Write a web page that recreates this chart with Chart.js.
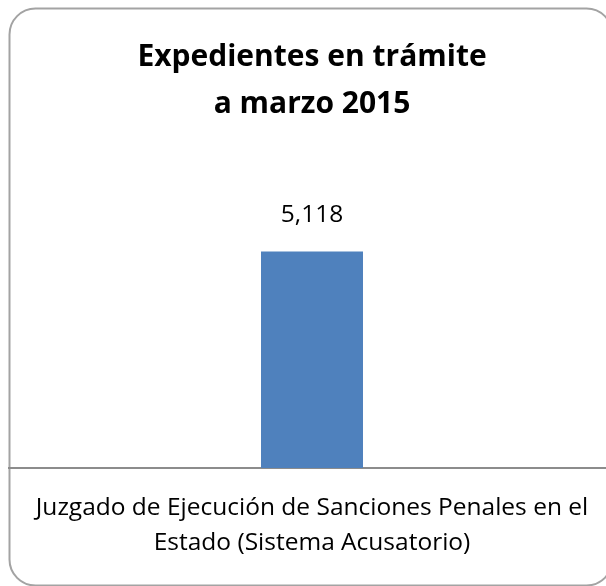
<!DOCTYPE html>
<html>
<head>
<meta charset="utf-8">
<script src="https://cdn.jsdelivr.net/npm/chart.js@4/dist/chart.umd.min.js"></script>
<style>
html,body{margin:0;padding:0;background:#fff;overflow:hidden;width:606px;height:586px;}
canvas{display:block;}
</style>
</head>
<body>
<canvas id="c" width="620" height="586"></canvas>
<script>
const titleLines = ["Expedientes en trámite", "a marzo 2015"];
const categories = [["Juzgado de Ejecución de Sanciones Penales en el", "Estado (Sistema Acusatorio)"]];
const values = [5118];
const yMin = 0;
const yMax = 8000;

const frame = {
  id: 'frame',
  beforeDraw(chart) {
    const ctx = chart.ctx;
    ctx.save();
    ctx.fillStyle = '#fff';
    ctx.fillRect(0, 0, chart.width, chart.height);
    const x = 9.5, y = 8.5, w = 603, h = 577, r = 26;
    ctx.beginPath();
    ctx.moveTo(x + r, y);
    ctx.lineTo(x + w - r, y);
    ctx.arcTo(x + w, y, x + w, y + r, r);
    ctx.lineTo(x + w, y + h - r);
    ctx.arcTo(x + w, y + h, x + w - r, y + h, r);
    ctx.lineTo(x + r, y + h);
    ctx.arcTo(x, y + h, x, y + h - r, r);
    ctx.lineTo(x, y + r);
    ctx.arcTo(x, y, x + r, y, r);
    ctx.closePath();
    ctx.strokeStyle = '#a3a3a3';
    ctx.lineWidth = 2;
    ctx.stroke();
    ctx.restore();
  }
};

const valueLabels = {
  id: 'valueLabels',
  afterDatasetsDraw(chart) {
    const ctx = chart.ctx;
    ctx.save();
    ctx.font = '24.5px "Open Sans"';
    ctx.fillStyle = '#000';
    ctx.textAlign = 'center';
    ctx.textBaseline = 'alphabetic';
    chart.getDatasetMeta(0).data.forEach((bar, i) => {
      const v = chart.data.datasets[0].data[i];
      ctx.fillText(v.toLocaleString('en-US'), bar.x, bar.y - 29);
    });
    ctx.restore();
  }
};

new Chart(document.getElementById('c'), {
  type: 'bar',
  data: {
    labels: categories,
    datasets: [{
      data: values,
      backgroundColor: '#4f81bd',
      borderWidth: 0,
      categoryPercentage: 1,
      barPercentage: 0.1683
    }]
  },
  options: {
    responsive: false,
    animation: false,
    layout: { padding: { left: 9, right: 5, top: 0, bottom: 2 } },
    plugins: {
      legend: { display: false },
      tooltip: { enabled: false },
      title: {
        display: true,
        text: titleLines,
        color: '#000',
        font: { family: '"Open Sans"', size: 30, weight: 'bold', lineHeight: 1.567 },
        padding: { top: 33.5, bottom: 2 }
      }
    },
    scales: {
      x: {
        grid: { display: false, drawTicks: false },
        border: { display: true, color: '#8c8c8c', width: 2 },
        ticks: {
          color: '#000',
          padding: 23,
          maxRotation: 0,
          font: { family: '"Open Sans"', size: 24.5, lineHeight: 1.43 }
        }
      },
      y: {
        display: false,
        min: yMin,
        max: yMax
      }
    }
  },
  plugins: [frame, valueLabels]
});
</script>
</body>
</html>
